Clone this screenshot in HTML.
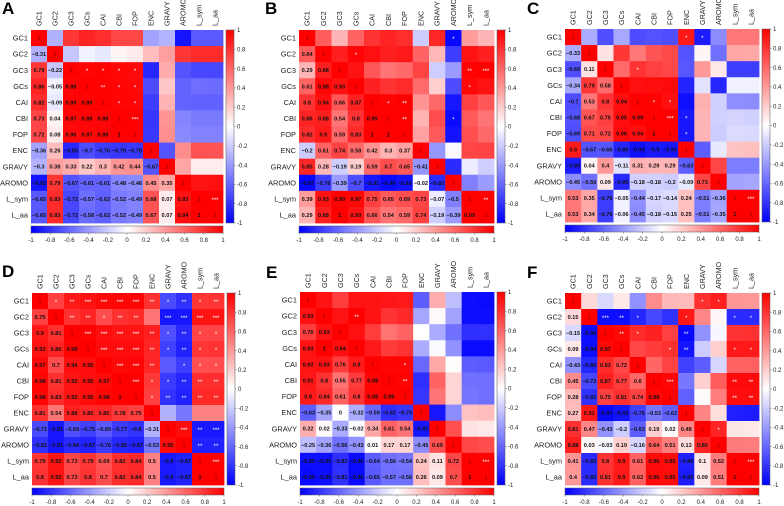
<!DOCTYPE html>
<html><head><meta charset="utf-8">
<style>
html,body{margin:0;padding:0;background:#fff;}
svg{display:block;font-family:"Liberation Sans",Arial,sans-serif;}
</style></head>
<body>
<svg id="s" width="784" height="506" viewBox="0 0 784 506" xmlns="http://www.w3.org/2000/svg">
<defs>
<linearGradient id="gv" x1="0" y1="0" x2="0" y2="1">
<stop offset="0" stop-color="#ff0000"/><stop offset="0.5" stop-color="#ffffff"/><stop offset="1" stop-color="#0000ff"/>
</linearGradient>
<linearGradient id="gh" x1="0" y1="0" x2="1" y2="0">
<stop offset="0" stop-color="#0000ff"/><stop offset="0.5" stop-color="#ffffff"/><stop offset="1" stop-color="#ff0000"/>
</linearGradient>
</defs>
</svg>
<script>
var names=["GC1","GC2","GC3","GCs","CAI","CBI","FOP","ENC","GRAVY","AROMO","L_sym","L_aa"];
var P=[
{L:"A",gx:31,gy:30,gw:192,gh:193,lx:2,ly:14,
low:[[-0.31],[0.79,-0.22],[0.86,-0.05,0.98],[0.82,-0.09,0.99,0.99],[0.73,0.04,0.97,0.98,0.98],[0.72,0.08,0.96,0.97,0.98,1],[-0.36,0.26,-0.85,-0.7,-0.76,-0.79,-0.78],[-0.3,0.38,0.33,0.22,0.3,0.42,0.44,-0.67],[-0.92,0.79,-0.67,-0.61,-0.61,-0.48,-0.46,0.45,0.35],[-0.65,0.83,-0.72,-0.57,-0.62,-0.52,-0.49,0.68,0.07,0.93],[-0.65,0.83,-0.72,-0.58,-0.62,-0.52,-0.49,0.67,0.07,0.94,1]],
st:{"2,3":"*","2,4":"*","2,5":"*","2,6":"*","3,4":"**","3,5":"*","3,6":"*","4,5":"*","4,6":"*","5,6":"***","10,11":"***"}},
{L:"B",gx:299,gy:30,gw:195,gh:193,lx:265,ly:14,
low:[[0.64],[0.29,0.88],[0.61,0.98,0.93],[0.8,0.94,0.66,0.87],[0.86,0.88,0.54,0.8,0.99],[0.82,0.9,0.59,0.83,1,1],[-0.2,0.61,0.74,0.58,0.42,0.3,0.37],[0.85,0.28,-0.19,0.19,0.59,0.7,0.65,-0.41],[-0.97,-0.76,-0.39,-0.7,-0.91,-0.96,-0.93,-0.02,-0.83],[0.39,0.93,0.99,0.97,0.75,0.65,0.69,0.73,-0.07,-0.5],[0.29,0.88,1,0.93,0.66,0.54,0.59,0.74,-0.19,-0.39,0.99]],
st:{"0,9":"*","1,3":"*","2,10":"**","2,11":"***","3,10":"*","4,5":"*","4,6":"**","5,6":"**","5,9":"*","10,11":"**"}},
{L:"C",gx:565,gy:29,gw:194,gh:193,lx:527,ly:14,
low:[[-0.33],[-0.69,0.11],[-0.34,0.79,0.58],[-0.7,0.53,0.8,0.94],[-0.68,0.67,0.75,0.95,0.99],[-0.69,0.71,0.72,0.96,0.94,1],[0.9,-0.67,-0.66,-0.86,-0.94,-0.9,-0.91],[-0.89,0.04,0.4,-0.11,0.31,0.29,0.29,-0.63],[-0.45,-0.56,0.09,-0.85,-0.18,-0.18,-0.2,-0.09,0.73],[0.53,0.35,-0.76,-0.05,-0.44,-0.17,-0.14,0.24,-0.51,-0.36],[0.53,0.34,-0.76,-0.06,-0.45,-0.18,-0.15,0.25,-0.51,-0.35,1]],
st:{"0,7":"*","0,8":"*","2,4":"*","4,5":"*","4,6":"*","5,6":"***","5,7":"*","6,7":"*","10,11":"***"}},
{L:"D",gx:32,gy:293,gh:192,gw:192,lx:2,ly:277,
low:[[0.75],[0.9,0.81],[0.93,0.86,0.99],[0.97,0.7,0.94,0.95],[0.98,0.81,0.92,0.95,0.97],[0.98,0.83,0.92,0.95,0.98,1],[0.81,0.54,0.88,0.85,0.85,0.78,0.75],[-0.71,-0.91,-0.69,-0.75,-0.65,-0.77,-0.8,-0.31],[-0.81,-0.91,-0.84,-0.87,-0.76,-0.85,-0.87,-0.53,0.95],[0.79,0.92,0.73,0.79,0.69,0.82,0.84,0.5,-0.9,-0.87],[0.8,0.92,0.73,0.8,0.7,0.82,0.84,0.5,-0.9,-0.87,1]],
st:null},
{L:"E",gx:300,gy:292,gw:194,gh:193,lx:266,ly:278,
low:[[0.93],[0.76,0.93],[0.93,1,0.94],[0.92,0.93,0.76,0.9],[0.91,0.8,0.55,0.77,0.98],[0.9,0.84,0.61,0.8,0.98,0.99],[-0.63,-0.35,0,-0.32,-0.59,-0.82,-0.79],[0.32,0.02,-0.33,-0.02,0.34,0.61,0.54,-0.91],[-0.25,-0.36,-0.56,-0.43,0.01,0.17,0.17,-0.45,0.69],[-0.95,-0.95,-0.82,-0.96,-0.64,-0.56,-0.54,0.24,0.11,0.72],[-0.96,-0.95,-0.81,-0.96,-0.65,-0.57,-0.56,0.26,0.09,0.7,1]],
st:{"1,3":"**","4,6":"*","5,6":"**","10,11":"***"}},
{L:"F",gx:565,gy:293,gw:194,gh:192,lx:527,ly:278,
low:[[0.15],[-0.15,-0.95],[0.09,-0.94,0.97],[-0.43,-0.85,0.83,0.72],[0.45,-0.72,0.87,0.77,0.6],[0.28,-0.81,0.75,0.81,0.74,0.98],[0.27,0.91,-0.97,-0.92,-0.75,-0.53,-0.62],[0.81,0.47,-0.43,-0.2,-0.63,0.19,0.02,0.48],[0.88,0.03,-0.03,0.19,-0.16,0.64,0.51,0.13,0.86],[0.41,-0.83,0.8,0.9,0.61,0.96,0.95,-0.88,0.1,0.52],[0.4,-0.83,0.81,0.9,0.62,0.96,0.95,-0.89,0.09,0.51,1]],
st:{"0,8":"*","0,9":"*","1,2":"***","1,3":"**","1,4":"*","1,7":"*","1,10":"*","1,11":"*","2,3":"**","2,4":"*","2,7":"**","3,6":"*","3,7":"**","3,10":"*","3,11":"*","5,6":"***","5,10":"**","5,11":"**","6,10":"**","6,11":"**","8,9":"*","10,11":"***"}}
];
// D stars
var dS=[
["*","**","***","***","***","***","**","*","**","*","**"],
["**","**","*","**","**","","***","***","***","***"],
["***","***","***","***","**","*","**","*","*"],
["***","***","***","**","*","**","*","*"],
["***","***","**","","*","*","*"],
["***","*","*","**","**","**"],
["*","**","**","**","**"],
["","","",""],
["***","**","***"],
["**","**"],
["***"]];
P[3].st={};
for(var i=0;i<dS.length;i++)for(var k=0;k<dS[i].length;k++){if(dS[i][k])P[3].st[i+","+(i+1+k)]=dS[i][k];}

function col(v){
  var t=Math.min(1,Math.abs(v));
  var c=Math.round(255*(1-t));
  return v>=0?"rgb(255,"+c+","+c+")":"rgb("+c+","+c+",255)";
}
function fmt(v){
  if(v===1)return "1";
  var s=String(v);
  if(v<0)s="\u2212"+String(-v);
  return s;
}
var h=[];
P.forEach(function(p){
  var n=12,cw=p.gw/n,ch=p.gh/n;
  var M=[];for(var i=0;i<n;i++){M.push([]);for(var j=0;j<n;j++)M[i].push(i===j?1:0);}
  for(var i=1;i<n;i++)for(var j=0;j<i;j++){M[i][j]=p.low[i-1][j];M[j][i]=p.low[i-1][j];}
  for(var i=0;i<n;i++)for(var j=0;j<n;j++){
    var x=p.gx+j*cw,y=p.gy+i*ch;
    h.push('<rect x="'+x.toFixed(2)+'" y="'+y.toFixed(2)+'" width="'+(cw+0.4).toFixed(2)+'" height="'+(ch+0.4).toFixed(2)+'" fill="'+col(M[i][j])+'"/>');
    var cx=x+cw/2,cy=y+ch/2+2;
    if(i===j){h.push('<text x="'+cx+'" y="'+cy+'" font-size="5.5" text-anchor="middle" fill="#7a0000">1</text>');}
    else if(i>j){h.push('<text x="'+cx+'" y="'+cy+'" font-size="5.6" font-weight="bold" text-anchor="middle" fill="#111">'+fmt(M[i][j])+'</text>');}
    else{var s=p.st[i+","+j];if(s)h.push('<text x="'+cx+'" y="'+(cy+1)+'" font-size="6" text-anchor="middle" fill="#fff">'+s+'</text>');}
  }
  // row labels
  for(var i=0;i<n;i++){
    h.push('<text x="'+(p.gx-3)+'" y="'+(p.gy+i*ch+ch/2+2.6)+'" font-size="7.4" text-anchor="end" fill="#222">'+names[i]+'</text>');
  }
  // column labels
  for(var j=0;j<n;j++){
    var cx=p.gx+j*cw+cw/2+2.5,y0=p.gy-4;
    h.push('<text transform="translate('+cx+','+y0+') rotate(-90)" font-size="7.2" fill="#222">'+names[j]+'</text>');
  }
  // letter
  h.push('<text x="'+p.lx+'" y="'+p.ly+'" font-size="17" font-weight="bold" fill="#000">'+p.L+'</text>');
  // right colorbar
  var rx=p.gx+p.gw+3,rw=8;
  h.push('<rect x="'+rx+'" y="'+p.gy+'" width="'+rw+'" height="'+p.gh+'" fill="url(#gv)" stroke="#555" stroke-width="0.5"/>');
  for(var k=0;k<=10;k++){
    var v=1-k*0.2,y=p.gy+k*p.gh/10;
    var lab=Math.abs(v)<1e-9?"0":(v<0?"-":"")+String(Math.round(Math.abs(v)*10)/10).replace(/^0\./,"0.");
    h.push('<line x1="'+(rx+rw)+'" y1="'+y+'" x2="'+(rx+rw+1.5)+'" y2="'+y+'" stroke="#555" stroke-width="0.5"/>');
    h.push('<text x="'+(rx+rw+3)+'" y="'+(y+2.2)+'" font-size="6" fill="#222">'+lab+'</text>');
  }
  // bottom colorbar
  var by=p.gy+p.gh+3,bh=7;
  h.push('<rect x="'+p.gx+'" y="'+by+'" width="'+p.gw+'" height="'+bh+'" fill="url(#gh)" stroke="#555" stroke-width="0.5"/>');
  for(var k=0;k<=10;k++){
    var v=-1+k*0.2,x=p.gx+k*p.gw/10;
    var lab=Math.abs(v)<1e-9?"0":(v<0?"-":"")+String(Math.round(Math.abs(v)*10)/10);
    h.push('<line x1="'+x+'" y1="'+(by+bh)+'" x2="'+x+'" y2="'+(by+bh+1.5)+'" stroke="#555" stroke-width="0.5"/>');
    h.push('<text x="'+x+'" y="'+(by+bh+9)+'" font-size="6" text-anchor="middle" fill="#222">'+lab+'</text>');
  }
});
document.getElementById("s").insertAdjacentHTML("beforeend",h.join(""));
</script>
</body></html>
